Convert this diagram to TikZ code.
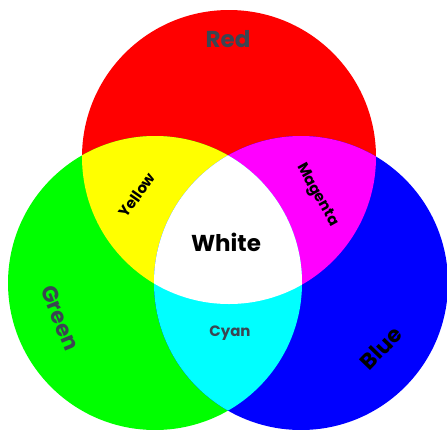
\documentclass[tikz,border=0pt]{standalone}
\usepackage{fontspec}
\setmainfont{Poppins}
\begin{document}
\begin{tikzpicture}[x=1pt,y=-1pt,
  lbl/.style={font=\bfseries, inner sep=0pt},
  graytxt/.style={lbl, text=txtgray},
  blacktxt/.style={lbl, text=black}]
\definecolor{txtgray}{HTML}{3B4652}
\definecolor{cred}{HTML}{FF0000}
\definecolor{cgreen}{HTML}{00FF00}
\definecolor{cblue}{HTML}{0000FF}
\definecolor{cyel}{HTML}{FFFF00}
\definecolor{cmag}{HTML}{FF00FF}
\definecolor{ccyan}{HTML}{00FFFF}
\useasboundingbox (0,0) rectangle (447,429);
\def\R{147}
\coordinate (cr) at (229,157);
\coordinate (cg) at (155,283);
\coordinate (cb) at (301,283);
\begin{scope}
\clip (0,0) rectangle (447,429);
\fill[cred] (cr) circle[radius=\R];
\fill[cgreen] (cg) circle[radius=\R];
\fill[cblue] (cb) circle[radius=\R];
\begin{scope}
  \clip (cr) circle[radius=\R];
  \fill[cyel] (cg) circle[radius=\R];
  \fill[cmag] (cb) circle[radius=\R];
\end{scope}
\begin{scope}
  \clip (cg) circle[radius=\R];
  \fill[ccyan] (cb) circle[radius=\R];
  \clip (cb) circle[radius=\R];
  \fill[white] (cr) circle[radius=\R];
\end{scope}
\end{scope}
\node[graytxt, font=\bfseries\fontsize{23}{23}\selectfont] (red) at (228,39) {Red};
\node[blacktxt, font=\bfseries\fontsize{23}{23}\selectfont] (white) at (226,242) {White};
\node[blacktxt, font=\bfseries\fontsize{15}{15}\selectfont, rotate=55] (yellow) at (137,195) {Yellow};
\node[blacktxt, font=\bfseries\fontsize{15}{15}\selectfont, rotate=-61] (magenta) at (317,195) {Magenta};
\node[graytxt, font=\bfseries\fontsize{22}{22}\selectfont, rotate=-68] (green) at (60,318) {Green};
\node[blacktxt, font=\bfseries\fontsize{22}{22}\selectfont, rotate=46] (blue) at (381,348) {Blue};
\node[graytxt, font=\bfseries\fontsize{15}{15}\selectfont] (cyantxt) at (230,333) {Cyan};
\end{tikzpicture}
\end{document}
